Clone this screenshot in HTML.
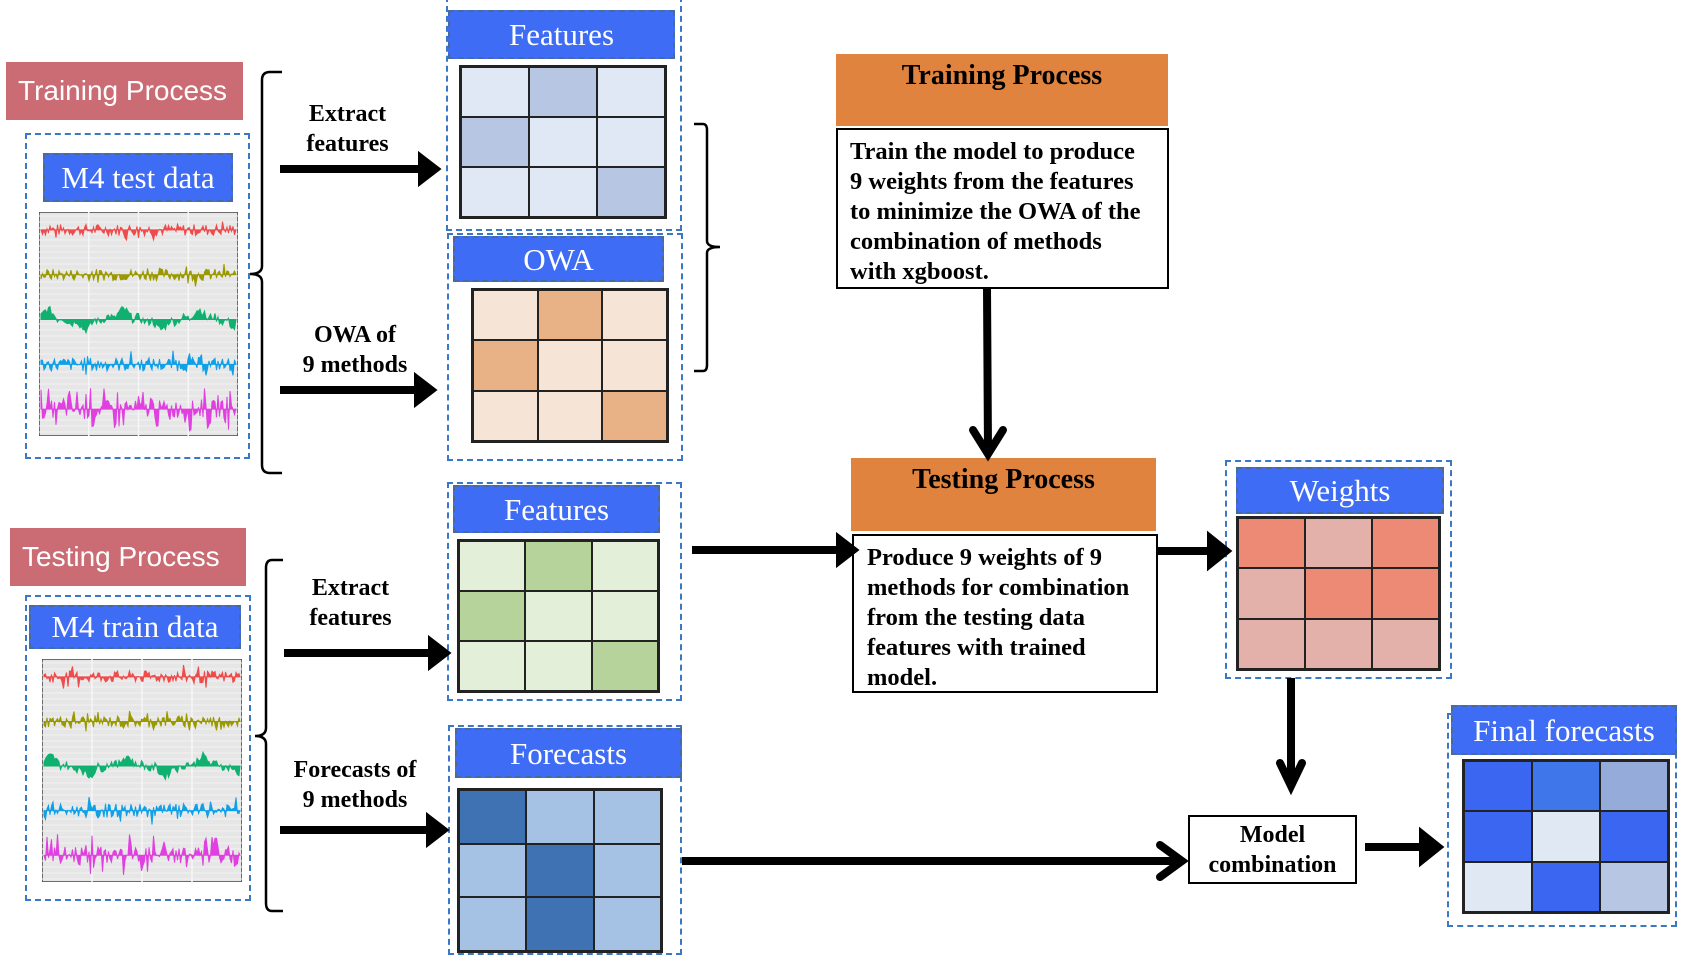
<!DOCTYPE html>
<html><head><meta charset="utf-8"><style>
body{margin:0;width:1686px;height:946px;background:#fff;position:relative;overflow:hidden;font-family:"Liberation Serif","Times New Roman",serif}
.a{position:absolute;box-sizing:border-box}
.pink{background:#cb6b74;color:#fff;font-family:"Liberation Sans",sans-serif;font-size:28px;display:flex;align-items:center;padding-left:12px}
.dash{border:2px dashed #3a77c4}
.lab{background:#3f6cf5;color:#fff;font-family:"Liberation Serif",serif;font-size:31px;text-align:center;border:2px dashed #4a6a9a}
.grid{display:grid;grid-template-columns:1fr 1fr 1fr;grid-template-rows:1fr 1fr 1fr;border:2px solid #222;gap:0}
.grid div{border:1px solid #222}
.t{position:absolute;font-family:"Liberation Serif",serif;font-weight:bold;font-size:24px;text-align:center;line-height:30px}
.orange{background:#e0833f;font-family:"Liberation Serif",serif;font-weight:bold;font-size:28px;text-align:center;padding-top:6px}
.box{border:2.5px solid #000;background:#fff;font-family:"Liberation Serif",serif;font-weight:bold;font-size:24.5px;line-height:30px}
</style></head><body>

<div class="a pink" style="left:6px;top:62px;width:237px;height:58px">Training Process</div>
<div class="a dash" style="left:25px;top:133px;width:225px;height:326px"></div>
<div class="a lab" style="left:43px;top:153px;width:190px;height:49px;line-height:45px">M4 test data</div>
<svg class="a chart" style="left:39px;top:212px" width="199" height="224"></svg>

<div class="a pink" style="left:10px;top:528px;width:236px;height:58px">Testing Process</div>
<div class="a dash" style="left:25px;top:595px;width:226px;height:306px"></div>
<div class="a lab" style="left:29px;top:605px;width:212px;height:44px;line-height:40px">M4 train data</div>
<svg class="a chart" style="left:42px;top:659px" width="200" height="223"></svg>

<div class="t" style="left:276px;top:99px;width:143px">Extract<br>features</div>
<div class="t" style="left:275px;top:320px;width:160px">OWA of<br>9 methods</div>
<div class="t" style="left:279px;top:573px;width:143px">Extract<br>features</div>
<div class="t" style="left:270px;top:755px;width:170px">Forecasts of<br>9 methods</div>

<div class="a dash" style="left:446px;top:-4px;width:236px;height:235px"></div>
<div class="a lab" style="left:448px;top:10px;width:227px;height:49px;line-height:46px">Features</div>
<div class="a grid" style="left:459px;top:65px;width:208px;height:154px">
<div style="background:#dfe8f4"></div><div style="background:#b7c7e3"></div><div style="background:#dfe8f4"></div>
<div style="background:#b7c7e3"></div><div style="background:#dfe8f4"></div><div style="background:#dfe8f4"></div>
<div style="background:#dfe8f4"></div><div style="background:#dfe8f4"></div><div style="background:#b7c7e3"></div></div>

<div class="a dash" style="left:447px;top:233px;width:236px;height:228px"></div>
<div class="a lab" style="left:453px;top:236px;width:211px;height:46px;line-height:43px">OWA</div>
<div class="a grid" style="left:471px;top:288px;width:198px;height:155px">
<div style="background:#f6e4d6"></div><div style="background:#e9b186"></div><div style="background:#f6e4d6"></div>
<div style="background:#e9b186"></div><div style="background:#f6e4d6"></div><div style="background:#f6e4d6"></div>
<div style="background:#f6e4d6"></div><div style="background:#f6e4d6"></div><div style="background:#e9b186"></div></div>

<div class="a dash" style="left:447px;top:482px;width:235px;height:219px"></div>
<div class="a lab" style="left:453px;top:485px;width:207px;height:48px;line-height:45px">Features</div>
<div class="a grid" style="left:457px;top:539px;width:203px;height:154px">
<div style="background:#e4efda"></div><div style="background:#b5d39a"></div><div style="background:#e4efda"></div>
<div style="background:#b5d39a"></div><div style="background:#e4efda"></div><div style="background:#e4efda"></div>
<div style="background:#e4efda"></div><div style="background:#e4efda"></div><div style="background:#b5d39a"></div></div>

<div class="a dash" style="left:448px;top:725px;width:234px;height:230px"></div>
<div class="a lab" style="left:455px;top:728px;width:227px;height:50px;line-height:47px">Forecasts</div>
<div class="a grid" style="left:457px;top:788px;width:206px;height:165px">
<div style="background:#3f72b3"></div><div style="background:#a5c2e5"></div><div style="background:#a5c2e5"></div>
<div style="background:#a5c2e5"></div><div style="background:#3f72b3"></div><div style="background:#a5c2e5"></div>
<div style="background:#a5c2e5"></div><div style="background:#3f72b3"></div><div style="background:#a5c2e5"></div></div>

<div class="a orange" style="left:836px;top:54px;width:332px;height:72px">Training Process</div>
<div class="a box" style="left:836px;top:128px;width:333px;height:161px;padding:7px 0 0 12px">Train the model to produce<br>9 weights from the features<br>to minimize the OWA of the<br>combination of methods<br>with xgboost.</div>

<div class="a orange" style="left:851px;top:458px;width:305px;height:73px">Testing Process</div>
<div class="a box" style="left:852px;top:534px;width:306px;height:159px;padding:7px 0 0 13px">Produce 9 weights of 9<br>methods for combination<br>from the testing data<br>features with trained<br>model.</div>

<div class="a dash" style="left:1225px;top:460px;width:227px;height:219px"></div>
<div class="a lab" style="left:1236px;top:467px;width:208px;height:47px;line-height:44px">Weights</div>
<div class="a grid" style="left:1236px;top:516px;width:205px;height:155px">
<div style="background:#ed8a75"></div><div style="background:#e3b1a9"></div><div style="background:#ed8a75"></div>
<div style="background:#e3b1a9"></div><div style="background:#ed8a75"></div><div style="background:#ed8a75"></div>
<div style="background:#e3b1a9"></div><div style="background:#e3b1a9"></div><div style="background:#e3b1a9"></div></div>

<div class="a box" style="left:1188px;top:815px;width:169px;height:69px;text-align:center;padding-top:3px;font-size:24px">Model<br>combination</div>

<div class="a dash" style="left:1447px;top:713px;width:230px;height:214px"></div>
<div class="a lab" style="left:1451px;top:705px;width:226px;height:50px;line-height:47px">Final forecasts</div>
<div class="a grid" style="left:1462px;top:759px;width:208px;height:155px">
<div style="background:#3b66f2"></div><div style="background:#3f77ea"></div><div style="background:#95acda"></div>
<div style="background:#3b66f2"></div><div style="background:#dfe8f3"></div><div style="background:#3b66f2"></div>
<div style="background:#dfe8f3"></div><div style="background:#3b66f2"></div><div style="background:#b7c7e3"></div></div>

<svg class="a" style="left:0;top:0" width="1686" height="946">
<g fill="none" stroke="#000" stroke-width="2.5">
<path d="M282 72 H270 Q262 72 262 80 V266 Q262 274 250 274 Q262 274 262 282 V465 Q262 473 270 473 H282"/>
<path d="M283 560 H272 Q266 560 266 568 V728 Q266 736 255 736 Q266 736 266 744 V903 Q266 911 272 911 H283"/>
<path d="M694 124 H703 Q707 124 707 130 V241 Q707 247 720 247 Q707 247 707 253 V365 Q707 371 703 371 H694"/>
</g>
<g stroke="#000" stroke-width="8" fill="#000">
<line x1="280" y1="169" x2="424" y2="169"/><path d="M422 159 L435 169 L422 179Z"/>
<line x1="280" y1="390" x2="420" y2="390"/><path d="M418 380 L431 390 L418 400Z"/>
<line x1="284" y1="653" x2="434" y2="653"/><path d="M432 643 L445 653 L432 663Z"/>
<line x1="280" y1="830" x2="432" y2="830"/><path d="M430 820 L443 830 L430 840Z"/>
<line x1="692" y1="550" x2="842" y2="550"/><path d="M840 540 L853 550 L840 560Z"/>
<line x1="1157" y1="551" x2="1213" y2="551"/><path d="M1211 539 L1226 551 L1211 563Z"/>
<line x1="1365" y1="847" x2="1425" y2="847"/><path d="M1423 835 L1438 847 L1423 859Z"/>
<line x1="682" y1="861" x2="1180" y2="861"/>
<line x1="987" y1="288" x2="988" y2="452"/>
<line x1="1291" y1="678" x2="1291" y2="785"/>
</g>
<g fill="none" stroke="#000" stroke-width="8" stroke-linecap="round" stroke-linejoin="miter">
<path d="M1160 845 L1182 861 L1160 877"/>
<path d="M973 430 L988 454 L1003 430"/>
<path d="M1280 763 L1291 786 L1302 763"/>
</g>
</svg>

<script>
var seed=7;function r(){seed=(seed*9301+49297)%233280;return seed/233280;}
var cols=["#f04b4b","#9a9a00","#10b070","#10a0e8","#e040e0"];
var amps=[12,12,18,14,22];
document.querySelectorAll("svg.chart").forEach(function(s){
 var w=+s.getAttribute("width"),h=+s.getAttribute("height");
 var html='<rect x="0" y="0" width="'+w+'" height="'+h+'" fill="#e6e6e6" stroke="#444" stroke-width="1.5"/>';
 for(var y=4;y<h;y+=6)html+='<line x1="0" x2="'+w+'" y1="'+y+'" y2="'+y+'" stroke="#f2f2f2" stroke-width="1"/>';
 for(var k=1;k<4;k++)html+='<line y1="0" y2="'+h+'" x1="'+(k*w/4)+'" x2="'+(k*w/4)+'" stroke="#f6f6f6" stroke-width="1.5"/>';
 for(var i=0;i<5;i++){
  var base=h*(0.08+i*0.2);var pts="2,"+base;var v=0;
  for(var x=2;x<w-2;x+=1.5){
   var ph=x/w*Math.PI*2;
   if(i==2){v=10*Math.sin(ph*2.6+1)*Math.abs(Math.sin(ph*5.3))+(r()-0.5)*8;}
   else if(i==4){v=(r()-0.5)*2*amps[i]*(r()<0.3?1:0.4);}
   else{v=(r()-0.5)*amps[i]*(r()<0.1?2:1);}
   pts+=" "+x.toFixed(1)+","+(base-v).toFixed(1);}
  pts+=" "+(w-2)+","+base;
  html+='<polygon points="'+pts+'" fill="'+cols[i]+'" stroke="'+cols[i]+'" stroke-width="1"/>';
 }
 s.innerHTML=html;
});
</script>
</body></html>
